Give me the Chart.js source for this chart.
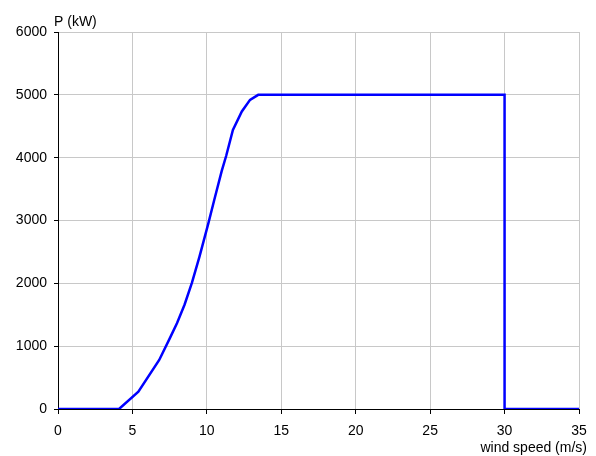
<!DOCTYPE html>
<html>
<head>
<meta charset="utf-8">
<script src="https://cdn.jsdelivr.net/npm/chart.js@4"></script>
<style>
html,body{margin:0;padding:0;background:#fff;}
canvas{display:block;}
</style>
</head>
<body>
<canvas id="c" width="596" height="456"></canvas>
<script>
const windSpeed = [0, 4.1, 5.4, 6.8, 7.5, 8.0, 8.5, 9.0, 9.5, 10.1, 10.5, 11.0, 11.3, 11.75, 12.35, 12.9, 13.45, 30, 30, 35];
const power     = [0, 0, 275, 780, 1120, 1370, 1660, 2010, 2420, 2955, 3330, 3790, 4030, 4440, 4735, 4920, 5000, 5000, 0, 0];
const xTicks = [0, 5, 10, 15, 20, 25, 30, 35];
const yTicks = [0, 1000, 2000, 3000, 4000, 5000, 6000];
const yTitle = 'P (kW)';
const xTitle = 'wind speed (m/s)';

const font = {family: '"Liberation Sans", Arial, sans-serif', size: 14};

const titlePlugin = {
  id: 'titles',
  afterDraw(chart) {
    const ctx = chart.ctx;
    ctx.save();
    ctx.fillStyle = '#000';
    ctx.font = '14px "Liberation Sans", Arial, sans-serif';
    ctx.textBaseline = 'alphabetic';
    ctx.textAlign = 'left';
    ctx.fillText(yTitle, 54, 26);
    ctx.textAlign = 'right';
    ctx.fillText(xTitle, 587, 452);
    ctx.restore();
  }
};

new Chart(document.getElementById('c'), {
  type: 'line',
  data: {
    datasets: [{
      data: windSpeed.map((x, i) => ({x: x, y: power[i]})),
      borderColor: 'rgb(0,0,255)',
      borderWidth: 2.5,
      pointRadius: 0,
      tension: 0,
      fill: false
    }]
  },
  options: {
    responsive: false,
    devicePixelRatio: 1,
    animation: false,
    layout: {padding: {top: 32, right: 17, left: 0, bottom: 0}},
    plugins: {legend: {display: false}, tooltip: {enabled: false}},
    scales: {
      x: {
        type: 'linear',
        min: 0, max: 35,
        afterBuildTicks: s => { s.ticks = xTicks.map(v => ({value: v})); },
        afterFit: s => { s.height = 47; },
        ticks: {font: font, color: '#000', padding: 9, maxRotation: 0, callback: v => String(v)},
        grid: {color: '#c8c8c8', lineWidth: 1, tickLength: 5, tickColor: '#000'},
        border: {color: '#000', width: 1}
      },
      y: {
        min: 0, max: 6000,
        afterBuildTicks: s => { s.ticks = yTicks.map(v => ({value: v})); },
        afterFit: s => { s.width = 58; },
        ticks: {font: font, color: '#000', padding: 7, callback: v => String(v)},
        grid: {color: '#c8c8c8', lineWidth: 1, tickLength: 4, tickColor: '#000'},
        border: {color: '#000', width: 1}
      }
    }
  },
  plugins: [titlePlugin]
});
</script>
</body>
</html>
